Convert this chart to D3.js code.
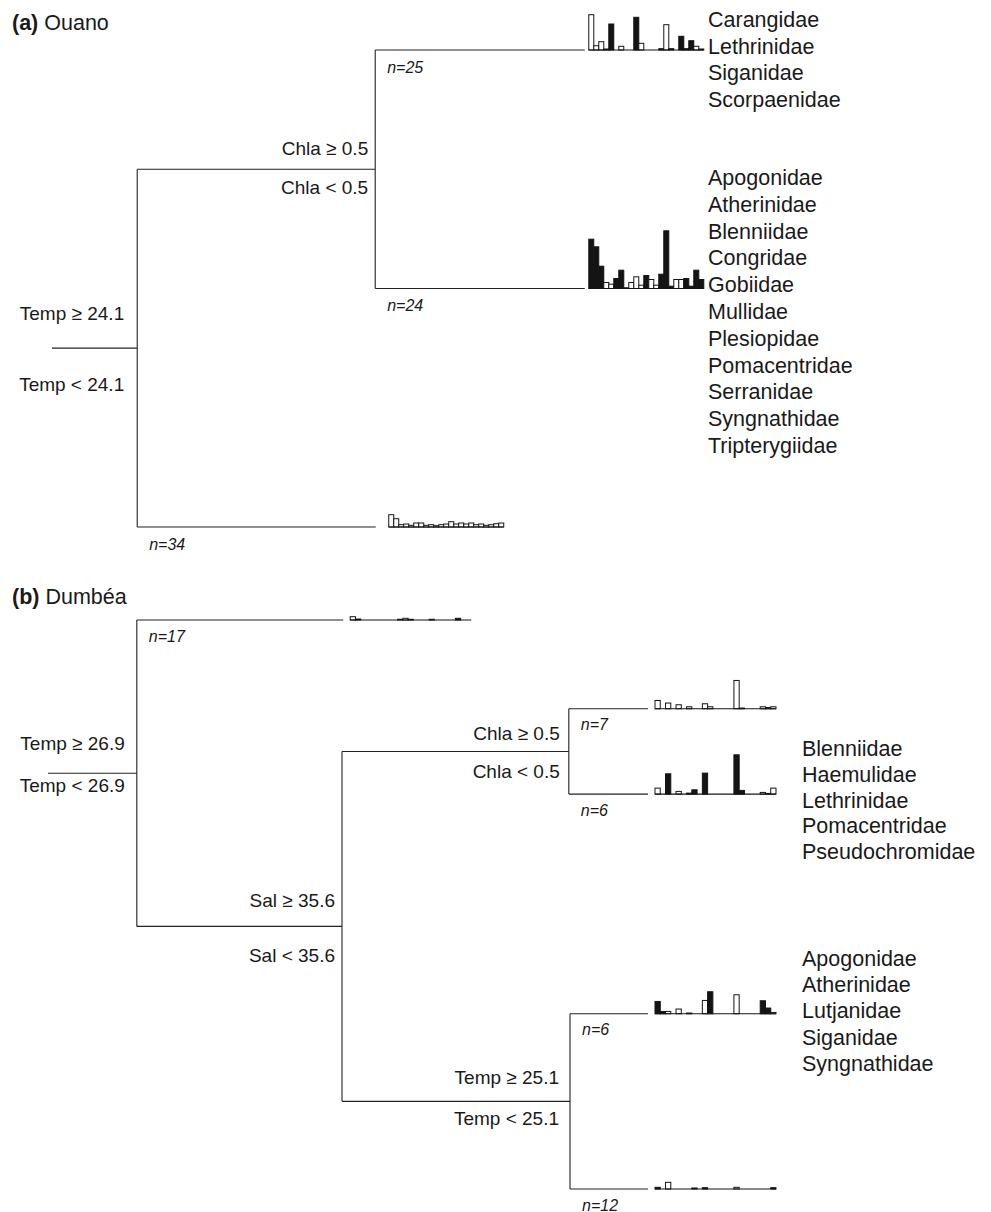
<!DOCTYPE html>
<html><head><meta charset="utf-8">
<script src="https://cdn.jsdelivr.net/npm/d3@7"></script>
<style>
body{margin:0;background:#fff}
svg text{font-family:"Liberation Sans",Arial,Helvetica,sans-serif;fill:#1a1a1a}
</style>
</head><body>
<svg id="c" width="991" height="1212"></svg>
<script>
// ---------------- DATA ----------------
// mean abundance of 23 families in each terminal group
const barsA_n25 = [35.3,4.3,8.3,1,26,0,3.7,0,0,32.7,6.7,0,0,0,1.3,25.3,1.3,0,13.7,1.3,9.3,3.7,1];
const indA_n25  = [0,0,0,1,1,0,0,0,0,1,0,0,0,0,1,0,1,0,1,1,1,0,0];
const barsA_n24 = [49.3,41.7,22.3,6,4.3,10,18.3,0.7,6,11.7,3.3,13,9,3.3,14.3,57.7,2.3,9,9,10,2.3,18.3,9];
const indA_n24  = [1,1,1,0,0,1,1,1,0,0,0,1,0,0,1,1,1,0,0,1,1,1,1];
const barsA_n34 = [12.3,8.3,2.3,3,1.7,4,4,1.7,2.3,1.3,2.3,3,5.3,3,4,3,4,2.3,3,1.7,2.3,3.3,4];
const indA_n34  = [0,0,0,0,0,0,0,0,0,0,0,0,0,0,0,0,0,0,0,0,0,0,0];

const barsB_n17 = [3.3,1,0,0,0,0,0,0,0,0.7,1.7,0.7,0,0,0,0.7,0,0,0,0,1.7,0,0];
const indB_n17  = [0,0,0,0,0,0,0,0,0,1,0,1,0,0,0,1,0,0,0,0,1,0,0];
const barsB_n7  = [8.3,0,5.7,0,4,0,2,0,0,5,2,0,0,0,0,28.3,0.7,0,0,0,2,1.3,2];
const indB_n7   = [0,0,0,0,0,0,0,0,0,0,0,0,0,0,0,0,1,0,0,0,0,0,0];
const barsB_n6a = [6,0,20.3,0,2.7,0,1,4.3,0,21,0,0,0,0,0,39.3,3.7,0,0,0,1.7,0.7,6];
const indB_n6a  = [0,0,1,0,0,0,1,1,0,1,0,0,0,0,0,1,1,0,0,0,0,0,0];
const barsB_n6b = [12.3,2.3,2.3,0,4.7,0,0.7,0,0,13.3,22,0,0,0,0,19,0,0,0,0,13,5.7,1.3];
const indB_n6b  = [1,1,0,0,0,0,0,0,0,0,1,0,0,0,0,0,0,0,0,0,1,1,0];
const barsB_n12 = [1.7,0,6.7,0,0,0,0,1,0,1.3,0,0,0,0,0,1.7,0,0,0,0,0,0,1.3];
const indB_n12  = [1,0,0,0,0,0,0,1,0,1,0,0,0,0,0,0,0,0,0,0,0,0,1];

const familiesA1 = ["Carangidae","Lethrinidae","Siganidae","Scorpaenidae"];
const familiesA2 = ["Apogonidae","Atherinidae","Blenniidae","Congridae","Gobiidae","Mullidae","Plesiopidae","Pomacentridae","Serranidae","Syngnathidae","Tripterygiidae"];
const familiesB1 = ["Blenniidae","Haemulidae","Lethrinidae","Pomacentridae","Pseudochromidae"];
const familiesB2 = ["Apogonidae","Atherinidae","Lutjanidae","Siganidae","Syngnathidae"];

const splitsA = [["Temp \u2265 24.1","Temp < 24.1"],["Chla \u2265 0.5","Chla < 0.5"]];
const splitsB = [["Temp \u2265 26.9","Temp < 26.9"],["Sal \u2265 35.6","Sal < 35.6"],["Chla \u2265 0.5","Chla < 0.5"],["Temp \u2265 25.1","Temp < 25.1"]];
const nA = [25,24,34];
const nB = [17,7,6,6,12];

// tree "deviance depth" of each node / leaf and leaf order weights
const depthA = {root:15.9, chla:60.3, leaf:[99.4,99.4,60.4]};
const orderA = [0,1,2];
const depthB = {root:14.8, sal:49, chla:86.8, temp:87, leaf:[49.2,100,100,100,100]};
const orderB = [0,0.156,0.306,0.692,1];

// ---------------- DRAW ----------------
const svg = d3.select("#c");
const nBars = 23;
const hScale = d3.scaleLinear().domain([0,60]).range([0,60]);

function line(x1,y1,x2,y2){
  svg.append("line").attr("x1",x1).attr("y1",y1).attr("x2",x2).attr("y2",y2)
    .attr("stroke","#222").attr("stroke-width",1.1);
}
function leafBars(x0, yBase, vals, ind, w){
  const bx = d3.scaleBand().domain(d3.range(nBars)).range([x0, x0+w]);
  const g = svg.append("g");
  g.selectAll("rect").data(vals).join("rect")
    .attr("x",(d,i)=>bx(i)).attr("width",bx.bandwidth())
    .attr("y",d=>yBase-hScale(d)).attr("height",d=>hScale(d))
    .attr("fill",(d,i)=>ind[i]?"#141414":"#fff")
    .attr("stroke","#141414").attr("stroke-width",1);
  g.append("line").attr("x1",x0).attr("x2",x0+w).attr("y1",yBase).attr("y2",yBase)
    .attr("stroke","#141414").attr("stroke-width",1.2);
}
function nLabel(x,y,n){
  svg.append("text").attr("x",x).attr("y",y).attr("dominant-baseline","central")
    .attr("font-size",16).attr("font-style","italic").text("n="+n);
}
function splitLabel(x,yStem,lab,offHi,offLo){
  svg.append("text").attr("x",x).attr("y",yStem+offHi).attr("text-anchor","end")
    .attr("dominant-baseline","central").attr("font-size",19).text(lab[0]);
  svg.append("text").attr("x",x).attr("y",yStem+offLo).attr("text-anchor","end")
    .attr("dominant-baseline","central").attr("font-size",19).text(lab[1]);
}
function familyList(x,y0,step,list){
  svg.append("g").selectAll("text").data(list).join("text")
    .attr("x",x).attr("y",(d,i)=>y0+i*step).attr("dominant-baseline","central")
    .attr("font-size",21.5).text(d=>d);
}
function title(y,letter,name){
  const t = svg.append("text").attr("x",12).attr("y",y).attr("dominant-baseline","central").attr("font-size",21.5);
  t.append("tspan").attr("font-weight","bold").text("("+letter+")");
  t.append("tspan").text(" "+name);
}

// ---- Panel (a) Ouano ----
{
  const x = d3.scaleLinear().domain([0,100]).range([52,588]);
  const y = d3.scaleLinear().domain([0,2]).range([50,527]);
  const ly = orderA.map(o=>y(o));
  const yChla = (ly[0]+ly[1])/2, yRoot = (yChla+ly[2])/2;
  line(x(0),yRoot,x(depthA.root),yRoot);
  line(x(depthA.root),yChla,x(depthA.root),ly[2]);
  line(x(depthA.root),yChla,x(depthA.chla),yChla);
  line(x(depthA.root),ly[2],x(depthA.leaf[2]),ly[2]);
  line(x(depthA.chla),ly[0],x(depthA.chla),ly[1]);
  line(x(depthA.chla),ly[0],x(depthA.leaf[0]),ly[0]);
  line(x(depthA.chla),ly[1],x(depthA.leaf[1]),ly[1]);
  const barsA=[barsA_n25,barsA_n24,barsA_n34], indA=[indA_n25,indA_n24,indA_n34];
  const startNode=[depthA.chla,depthA.chla,depthA.root];
  const gap=[4,4,13];
  ly.forEach((yy,i)=>{
    leafBars(x(depthA.leaf[i])+gap[i], yy, barsA[i], indA[i], 115);
    nLabel(x(startNode[i])+12, yy+17, nA[i]);
  });
  splitLabel(x(depthA.root)-13, yRoot, splitsA[0], -35, 36);
  splitLabel(x(depthA.chla)-7, yChla, splitsA[1], -21, 18);
  title(23,"a","Ouano");
  familyList(708,20,26.7,familiesA1);
  familyList(708,178,26.8,familiesA2);
}

// ---- Panel (b) Dumbéa ----
{
  const x = d3.scaleLinear().domain([0,100]).range([48,648]);
  const y = d3.scaleLinear().domain([0,1]).range([620,1189]);
  const ly = orderB.map(o=>y(o));
  const yChla = (ly[1]+ly[2])/2, yTemp = (ly[3]+ly[4])/2;
  const ySal = (yChla+yTemp)/2, yRoot = (ly[0]+ySal)/2;
  line(x(0),yRoot,x(depthB.root),yRoot);
  line(x(depthB.root),ly[0],x(depthB.root),ySal);
  line(x(depthB.root),ly[0],x(depthB.leaf[0]),ly[0]);
  line(x(depthB.root),ySal,x(depthB.sal),ySal);
  line(x(depthB.sal),yChla,x(depthB.sal),yTemp);
  line(x(depthB.sal),yChla,x(depthB.chla),yChla);
  line(x(depthB.sal),yTemp,x(depthB.temp),yTemp);
  line(x(depthB.chla),ly[1],x(depthB.chla),ly[2]);
  line(x(depthB.chla),ly[1],x(depthB.leaf[1]),ly[1]);
  line(x(depthB.chla),ly[2],x(depthB.leaf[2]),ly[2]);
  line(x(depthB.temp),ly[3],x(depthB.temp),ly[4]);
  line(x(depthB.temp),ly[3],x(depthB.leaf[3]),ly[3]);
  line(x(depthB.temp),ly[4],x(depthB.leaf[4]),ly[4]);
  const barsB=[barsB_n17,barsB_n7,barsB_n6a,barsB_n6b,barsB_n12];
  const indB=[indB_n17,indB_n7,indB_n6a,indB_n6b,indB_n12];
  const startNode=[depthB.root,depthB.chla,depthB.chla,depthB.temp,depthB.temp];
  ly.forEach((yy,i)=>{
    leafBars(x(depthB.leaf[i])+7, yy, barsB[i], indB[i], 121);
    nLabel(x(startNode[i])+12, yy+16, nB[i]);
  });
  splitLabel(x(depthB.root)-12, yRoot, splitsB[0], -30, 12);
  splitLabel(x(depthB.sal)-7, ySal, splitsB[1], -26, 29);
  splitLabel(x(depthB.chla)-9, yChla, splitsB[2], -18, 20);
  splitLabel(x(depthB.temp)-11, yTemp, splitsB[3], -24, 17);
  title(597,"b","Dumbéa");
  familyList(802,749,25.8,familiesB1);
  familyList(802,959,26.2,familiesB2);
}
</script>
</body></html>
